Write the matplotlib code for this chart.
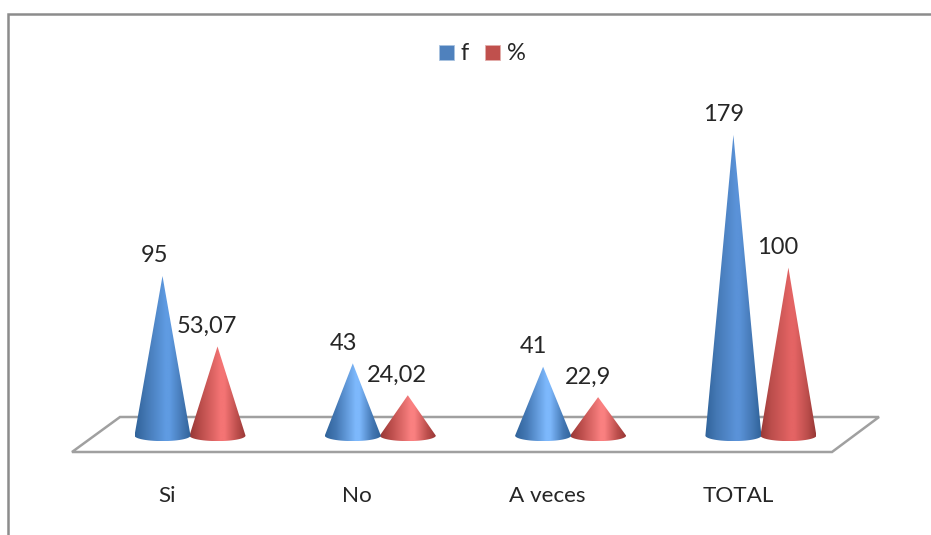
import numpy as np
import matplotlib
matplotlib.use("Agg")
import matplotlib.pyplot as plt
from matplotlib.colors import LinearSegmentedColormap
from matplotlib.lines import Line2D
from matplotlib.patches import Patch, PathPatch, Polygon
from matplotlib.path import Path

categories = ["Si", "No", "A veces", "TOTAL"]
f_values = [95, 43, 41, 179]
pct_values = [53.07, 24.02, 22.9, 100]

# Styling: cone shading per category
blue_peaks = ["#5F9BE2", "#7DB8FC", "#7DB8FC", "#5A92D8"]
red_peaks = ["#F47474", "#FA8080", "#FA8080", "#E46464"]
BLUE_EDGE, RED_EDGE = "#30639A", "#983836"
BLUE_MID, RED_MID = "#4478B4", "#BC4E4C"
BLUE_KEY, RED_KEY = "#4F81BD", "#C0504D"
LINE = "#A0A0A0"
FRAME = "#8C8C8C"
TEXT = "#262626"

W, H = 931, 535
plt.rcParams["font.family"] = ["Lato", "DejaVu Sans"]
fig = plt.figure(figsize=(W / 100, H / 100), dpi=100, facecolor="white")
ax = fig.add_axes([0, 0, 1, 1])

# Scales: one category step is 190.3 px, one value unit is 1.68 px
STEP, UNIT = 190.3, 1.68
X0, Y0 = 190.0, 435.6
ax.set_xlim(-X0 / STEP, (W - X0) / STEP)
ax.set_ylim(-(H - Y0) / UNIT, Y0 / UNIT)
ax.axis("off")


def px(x, y):
    """Convert pixel position (from the top-left) to data coordinates."""
    return (x - X0) / STEP, (Y0 - y) / UNIT


# Floor of the 3D chart
floor = Polygon([px(72, 452), px(120, 417), px(879, 417), px(832, 452)],
                closed=True, facecolor="white", edgecolor=LINE, linewidth=1.8,
                joinstyle="miter", zorder=1)
ax.add_patch(floor)

OFFSET = 27.5 / STEP
HALF_W = 28.0 / STEP
ELL_H = 5.5 / UNIT


def draw_cone(xc, value, edge, mid, peak, z):
    theta = np.linspace(0, np.pi, 40)
    arc_x = xc + HALF_W * np.cos(theta)
    arc_y = -ELL_H * np.sin(theta)
    verts = [(xc, value)] + list(zip(arc_x, arc_y)) + [(xc, value)]
    codes = [Path.MOVETO] + [Path.LINETO] * (len(verts) - 2) + [Path.CLOSEPOLY]
    clip = PathPatch(Path(verts, codes), transform=ax.transData,
                     facecolor="none", edgecolor="none")
    ax.add_patch(clip)
    cmap = LinearSegmentedColormap.from_list(
        "cone", [(0, edge), (0.2, mid), (0.55, peak), (0.62, peak),
                 (0.85, mid), (1, edge)])
    img = ax.imshow(np.linspace(0, 1, 128)[None, :], cmap=cmap, aspect="auto",
                    extent=(xc - HALF_W, xc + HALF_W, -ELL_H, value),
                    interpolation="bilinear", zorder=z)
    img.set_clip_path(clip)


for i in range(len(categories)):
    draw_cone(i - OFFSET, f_values[i], BLUE_EDGE, BLUE_MID, blue_peaks[i], 3)
    draw_cone(i + OFFSET, pct_values[i], RED_EDGE, RED_MID, red_peaks[i], 2)
ax.set_xlim(-X0 / STEP, (W - X0) / STEP)
ax.set_ylim(-(H - Y0) / UNIT, Y0 / UNIT)


def value_text(v):
    return f"{v:g}".replace(".", ",")


# Value labels sit above each tip, shifted a little to the left
f_shift = [-8, -9, -10, -10]
pct_shift = [-11, -11, -10, -11]
for i in range(len(categories)):
    for value, xpos, shift in ((f_values[i], i - OFFSET, f_shift[i]),
                               (pct_values[i], i + OFFSET, pct_shift[i])):
        ax.annotate(value_text(value), (xpos, value), xytext=(shift, 20),
                    textcoords="offset pixels", ha="center", va="center",
                    fontsize=17, color=TEXT, zorder=5)

# Category labels under the floor
for i, name in enumerate(categories):
    ax.annotate(name, (i, 0), xytext=(-23, -60), textcoords="offset pixels",
                ha="center", va="center", fontsize=16.2, color=TEXT)

# Legend
handles = [Patch(facecolor=BLUE_KEY, edgecolor="#A9C3E0", linewidth=0.6),
           Patch(facecolor=RED_KEY, edgecolor="#E3AEAC", linewidth=0.6)]
ax.legend(handles, ["f", "%"], ncol=2, frameon=False, loc="center",
          bbox_to_anchor=(482.5 / W, 1 - 54 / H), fontsize=17,
          handlelength=0.64, handleheight=0.6, handletextpad=0.3,
          columnspacing=0.68, labelcolor=TEXT, borderpad=0, borderaxespad=0)

# Outer chart border: top and left edges only
fig.add_artist(Line2D([8 / W, 8 / W, 1], [0, 1 - 13.5 / H, 1 - 13.5 / H],
                      transform=fig.transFigure, color=FRAME, linewidth=1.8,
                      solid_joinstyle="miter"))

fig.savefig("out.png", dpi=100)
